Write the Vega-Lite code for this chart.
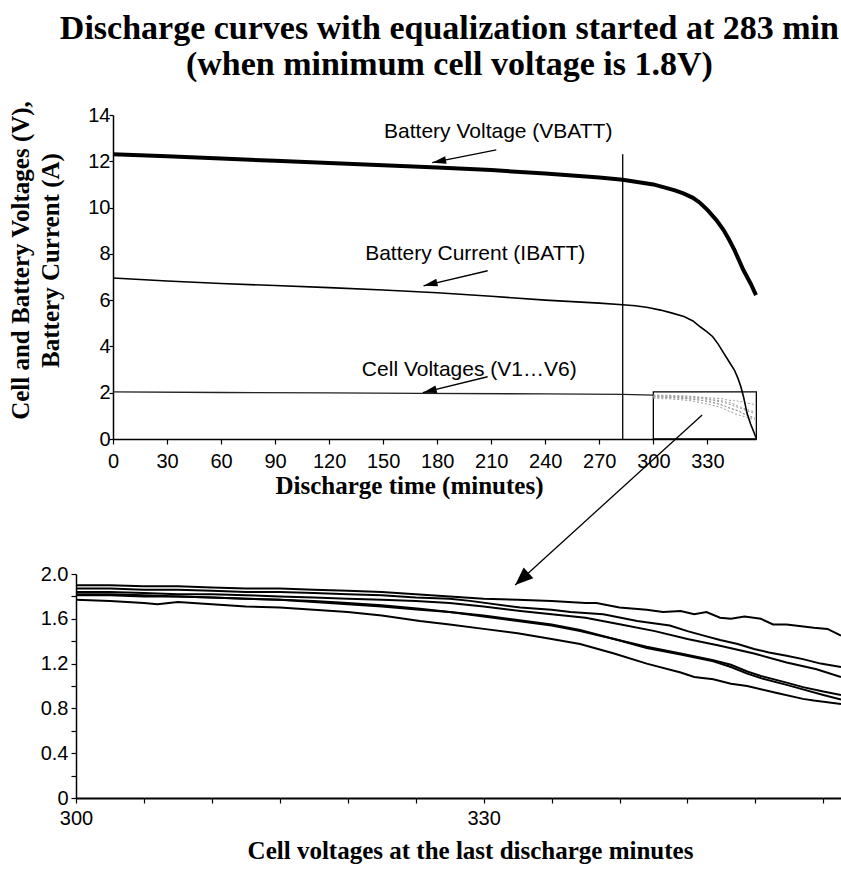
{
  "$schema": "https://vega.github.io/schema/vega-lite/v6.json",
  "background": "white",
  "padding": {"left": 8, "top": 12, "right": 0, "bottom": 5},
  "bounds": "flush",
  "spacing": 135,
  "title": {
    "text": ["Discharge curves with equalization started at 283 min", "(when minimum cell voltage is 1.8V)"],
    "font": "Liberation Serif", "fontSize": 34, "fontWeight": "bold", "lineHeight": 36,
    "anchor": "middle", "offset": 18, "dx": 6, "color": "black"
  },
  "config": {
    "view": {"stroke": null},
    "axis": {
      "domainColor": "black", "tickColor": "black", "labelColor": "black", "titleColor": "black",
      "grid": false, "labelFont": "Liberation Sans", "labelFontSize": 20,
      "titleFont": "Liberation Serif", "titleFontWeight": "bold", "titleFontSize": 25,
      "domainWidth": 1.5, "tickWidth": 1.2, "labelOverlap": false, "labelFlush": false
    }
  },
  "datasets": {
    "box": [{"t": 300, "t2": 357.2, "v": 0, "v2": 2.04}],
    "marker": [{"t": 283, "v": 0, "v2": 12.3}],
    "early": [
      {"t": 0, "v": 2.04}, {"t": 60, "v": 2.01}, {"t": 120, "v": 1.99}, {"t": 170, "v": 1.97},
      {"t": 240, "v": 1.95}, {"t": 283, "v": 1.93}, {"t": 300, "v": 1.9}
    ],
    "battery": [
      {"s": "VBATT", "t": 0, "v": 12.3}, {"s": "VBATT", "t": 30, "v": 12.22}, {"s": "VBATT", "t": 60, "v": 12.12},
      {"s": "VBATT", "t": 90, "v": 12.02}, {"s": "VBATT", "t": 120, "v": 11.93}, {"s": "VBATT", "t": 150, "v": 11.83},
      {"s": "VBATT", "t": 180, "v": 11.73}, {"s": "VBATT", "t": 210, "v": 11.62}, {"s": "VBATT", "t": 240, "v": 11.47},
      {"s": "VBATT", "t": 270, "v": 11.3}, {"s": "VBATT", "t": 283, "v": 11.2}, {"s": "VBATT", "t": 300, "v": 11.0},
      {"s": "VBATT", "t": 307, "v": 10.85}, {"s": "VBATT", "t": 312, "v": 10.74}, {"s": "VBATT", "t": 317, "v": 10.6},
      {"s": "VBATT", "t": 322, "v": 10.42}, {"s": "VBATT", "t": 326, "v": 10.2}, {"s": "VBATT", "t": 330, "v": 9.9},
      {"s": "VBATT", "t": 335, "v": 9.46}, {"s": "VBATT", "t": 339, "v": 9.03}, {"s": "VBATT", "t": 342, "v": 8.62},
      {"s": "VBATT", "t": 345, "v": 8.17}, {"s": "VBATT", "t": 350, "v": 7.3}, {"s": "VBATT", "t": 354, "v": 6.72},
      {"s": "VBATT", "t": 357, "v": 6.22},
      {"s": "IBATT", "t": 0, "v": 6.96}, {"s": "IBATT", "t": 30, "v": 6.83}, {"s": "IBATT", "t": 60, "v": 6.72},
      {"s": "IBATT", "t": 90, "v": 6.63}, {"s": "IBATT", "t": 120, "v": 6.54}, {"s": "IBATT", "t": 150, "v": 6.44},
      {"s": "IBATT", "t": 180, "v": 6.32}, {"s": "IBATT", "t": 210, "v": 6.17}, {"s": "IBATT", "t": 240, "v": 6.0},
      {"s": "IBATT", "t": 270, "v": 5.87}, {"s": "IBATT", "t": 283, "v": 5.8}, {"s": "IBATT", "t": 290, "v": 5.76},
      {"s": "IBATT", "t": 297, "v": 5.68}, {"s": "IBATT", "t": 304, "v": 5.57}, {"s": "IBATT", "t": 310, "v": 5.45},
      {"s": "IBATT", "t": 317, "v": 5.29}, {"s": "IBATT", "t": 322, "v": 5.1}, {"s": "IBATT", "t": 326, "v": 4.85},
      {"s": "IBATT", "t": 330, "v": 4.62}, {"s": "IBATT", "t": 333, "v": 4.42}, {"s": "IBATT", "t": 336, "v": 4.1},
      {"s": "IBATT", "t": 339, "v": 3.72}, {"s": "IBATT", "t": 342, "v": 3.35}, {"s": "IBATT", "t": 345, "v": 2.98},
      {"s": "IBATT", "t": 347, "v": 2.62}, {"s": "IBATT", "t": 348.6, "v": 2.26}, {"s": "IBATT", "t": 350, "v": 1.85},
      {"s": "IBATT", "t": 352, "v": 1.12}, {"s": "IBATT", "t": 354, "v": 0.65}, {"s": "IBATT", "t": 356, "v": 0.26},
      {"s": "IBATT", "t": 357, "v": 0.05}
    ],
    "labels": [
      {"t": 213.9, "v": 13.25, "text": "Battery Voltage (VBATT)"},
      {"t": 201.1, "v": 7.99, "text": "Battery Current (IBATT)"},
      {"t": 197.8, "v": 2.96, "text": "Cell Voltages (V1…V6)"}
    ],
    "arrows": [
      {"id": "vbatt", "t": 212.8, "v": 12.49, "t2": 177.2, "v2": 11.94},
      {"id": "ibatt", "t": 208, "v": 7.27, "t2": 172.4, "v2": 6.62},
      {"id": "cell", "t": 208, "v": 2.69, "t2": 172, "v2": 2.0},
      {"id": "zoom", "t": 327.1, "v": 1.04, "t2": 223.3, "v2": -6.31}
    ],
    "cells": [
      {"cell": "L1", "t": 300, "v": 1.90}, {"cell": "L1", "t": 302.5, "v": 1.90}, {"cell": "L1", "t": 305, "v": 1.89},
      {"cell": "L1", "t": 307.5, "v": 1.89}, {"cell": "L1", "t": 310, "v": 1.88}, {"cell": "L1", "t": 312.5, "v": 1.87},
      {"cell": "L1", "t": 315, "v": 1.87}, {"cell": "L1", "t": 317.5, "v": 1.86}, {"cell": "L1", "t": 320, "v": 1.85},
      {"cell": "L1", "t": 322.5, "v": 1.84}, {"cell": "L1", "t": 325, "v": 1.82}, {"cell": "L1", "t": 327.5, "v": 1.80},
      {"cell": "L1", "t": 330, "v": 1.78}, {"cell": "L1", "t": 332.5, "v": 1.77}, {"cell": "L1", "t": 335, "v": 1.76},
      {"cell": "L1", "t": 337.5, "v": 1.74}, {"cell": "L1", "t": 338.3, "v": 1.74}, {"cell": "L1", "t": 340, "v": 1.70},
      {"cell": "L1", "t": 342, "v": 1.68}, {"cell": "L1", "t": 343.2, "v": 1.66}, {"cell": "L1", "t": 344.5, "v": 1.67},
      {"cell": "L1", "t": 345.5, "v": 1.64}, {"cell": "L1", "t": 346.4, "v": 1.66}, {"cell": "L1", "t": 347.4, "v": 1.61},
      {"cell": "L1", "t": 348.2, "v": 1.60}, {"cell": "L1", "t": 349.2, "v": 1.62}, {"cell": "L1", "t": 350.4, "v": 1.60},
      {"cell": "L1", "t": 351.3, "v": 1.55}, {"cell": "L1", "t": 352.3, "v": 1.55}, {"cell": "L1", "t": 354.3, "v": 1.52},
      {"cell": "L1", "t": 355.3, "v": 1.51}, {"cell": "L1", "t": 356.3, "v": 1.45},
      {"cell": "L2", "t": 300, "v": 1.87}, {"cell": "L2", "t": 302.5, "v": 1.87}, {"cell": "L2", "t": 305, "v": 1.86},
      {"cell": "L2", "t": 307.5, "v": 1.86}, {"cell": "L2", "t": 310, "v": 1.85}, {"cell": "L2", "t": 312.5, "v": 1.84},
      {"cell": "L2", "t": 315, "v": 1.84}, {"cell": "L2", "t": 317.5, "v": 1.83}, {"cell": "L2", "t": 320, "v": 1.82},
      {"cell": "L2", "t": 322.5, "v": 1.81}, {"cell": "L2", "t": 325, "v": 1.79}, {"cell": "L2", "t": 327.5, "v": 1.78},
      {"cell": "L2", "t": 329, "v": 1.76}, {"cell": "L2", "t": 332.7, "v": 1.70}, {"cell": "L2", "t": 335, "v": 1.68},
      {"cell": "L2", "t": 336.4, "v": 1.66}, {"cell": "L2", "t": 338.8, "v": 1.64}, {"cell": "L2", "t": 341.3, "v": 1.58},
      {"cell": "L2", "t": 343.7, "v": 1.54}, {"cell": "L2", "t": 345, "v": 1.49}, {"cell": "L2", "t": 346.2, "v": 1.45},
      {"cell": "L2", "t": 347.4, "v": 1.41}, {"cell": "L2", "t": 348.7, "v": 1.375}, {"cell": "L2", "t": 349.9, "v": 1.33},
      {"cell": "L2", "t": 351, "v": 1.30}, {"cell": "L2", "t": 352.3, "v": 1.27}, {"cell": "L2", "t": 353.5, "v": 1.24},
      {"cell": "L2", "t": 354.8, "v": 1.20}, {"cell": "L2", "t": 356.3, "v": 1.17},
      {"cell": "L3", "t": 300, "v": 1.84}, {"cell": "L3", "t": 302.5, "v": 1.84}, {"cell": "L3", "t": 305, "v": 1.83},
      {"cell": "L3", "t": 307.5, "v": 1.82}, {"cell": "L3", "t": 310, "v": 1.82}, {"cell": "L3", "t": 312.5, "v": 1.81},
      {"cell": "L3", "t": 315, "v": 1.80}, {"cell": "L3", "t": 317.5, "v": 1.79}, {"cell": "L3", "t": 320, "v": 1.78},
      {"cell": "L3", "t": 322.5, "v": 1.77}, {"cell": "L3", "t": 325, "v": 1.76}, {"cell": "L3", "t": 327.5, "v": 1.74},
      {"cell": "L3", "t": 330, "v": 1.71}, {"cell": "L3", "t": 332.7, "v": 1.67}, {"cell": "L3", "t": 335, "v": 1.64},
      {"cell": "L3", "t": 337.5, "v": 1.61}, {"cell": "L3", "t": 340.1, "v": 1.55}, {"cell": "L3", "t": 342.6, "v": 1.49},
      {"cell": "L3", "t": 345, "v": 1.42}, {"cell": "L3", "t": 347.4, "v": 1.36}, {"cell": "L3", "t": 349.9, "v": 1.29},
      {"cell": "L3", "t": 352.3, "v": 1.21}, {"cell": "L3", "t": 354.5, "v": 1.15}, {"cell": "L3", "t": 356.3, "v": 1.08},
      {"cell": "L4", "t": 300, "v": 1.82}, {"cell": "L4", "t": 302.5, "v": 1.82}, {"cell": "L4", "t": 305, "v": 1.81},
      {"cell": "L4", "t": 307.5, "v": 1.80}, {"cell": "L4", "t": 310, "v": 1.79}, {"cell": "L4", "t": 312.5, "v": 1.78},
      {"cell": "L4", "t": 315, "v": 1.77}, {"cell": "L4", "t": 317.5, "v": 1.76}, {"cell": "L4", "t": 320, "v": 1.74},
      {"cell": "L4", "t": 322.5, "v": 1.72}, {"cell": "L4", "t": 325.3, "v": 1.69}, {"cell": "L4", "t": 327.5, "v": 1.66},
      {"cell": "L4", "t": 330, "v": 1.63}, {"cell": "L4", "t": 332.5, "v": 1.59}, {"cell": "L4", "t": 335, "v": 1.55},
      {"cell": "L4", "t": 337.1, "v": 1.50}, {"cell": "L4", "t": 339.6, "v": 1.42}, {"cell": "L4", "t": 342, "v": 1.35},
      {"cell": "L4", "t": 344.5, "v": 1.29}, {"cell": "L4", "t": 346.9, "v": 1.23}, {"cell": "L4", "t": 348.2, "v": 1.19},
      {"cell": "L4", "t": 349.4, "v": 1.13}, {"cell": "L4", "t": 350.4, "v": 1.09}, {"cell": "L4", "t": 352.3, "v": 1.03},
      {"cell": "L4", "t": 353.5, "v": 0.99}, {"cell": "L4", "t": 355, "v": 0.95}, {"cell": "L4", "t": 356.3, "v": 0.92},
      {"cell": "L5", "t": 300, "v": 1.81}, {"cell": "L5", "t": 302.5, "v": 1.81}, {"cell": "L5", "t": 305, "v": 1.80},
      {"cell": "L5", "t": 307.5, "v": 1.80}, {"cell": "L5", "t": 310, "v": 1.79}, {"cell": "L5", "t": 312.5, "v": 1.78},
      {"cell": "L5", "t": 315, "v": 1.77}, {"cell": "L5", "t": 317.5, "v": 1.75}, {"cell": "L5", "t": 320, "v": 1.73},
      {"cell": "L5", "t": 322.5, "v": 1.71}, {"cell": "L5", "t": 325.3, "v": 1.68}, {"cell": "L5", "t": 327.5, "v": 1.66},
      {"cell": "L5", "t": 330, "v": 1.62}, {"cell": "L5", "t": 332.5, "v": 1.58}, {"cell": "L5", "t": 335, "v": 1.54},
      {"cell": "L5", "t": 337.1, "v": 1.49}, {"cell": "L5", "t": 339.6, "v": 1.42}, {"cell": "L5", "t": 342, "v": 1.34},
      {"cell": "L5", "t": 344.5, "v": 1.28}, {"cell": "L5", "t": 346.9, "v": 1.22}, {"cell": "L5", "t": 348.2, "v": 1.17},
      {"cell": "L5", "t": 349.4, "v": 1.11}, {"cell": "L5", "t": 350.4, "v": 1.07}, {"cell": "L5", "t": 352.3, "v": 1.01},
      {"cell": "L5", "t": 353.5, "v": 0.97}, {"cell": "L5", "t": 355, "v": 0.92}, {"cell": "L5", "t": 356.3, "v": 0.88},
      {"cell": "L6", "t": 300, "v": 1.77}, {"cell": "L6", "t": 302.5, "v": 1.76}, {"cell": "L6", "t": 305, "v": 1.74},
      {"cell": "L6", "t": 306, "v": 1.73}, {"cell": "L6", "t": 307.5, "v": 1.75}, {"cell": "L6", "t": 310, "v": 1.73},
      {"cell": "L6", "t": 312.5, "v": 1.71}, {"cell": "L6", "t": 315, "v": 1.70}, {"cell": "L6", "t": 317.5, "v": 1.68},
      {"cell": "L6", "t": 320, "v": 1.66}, {"cell": "L6", "t": 322.5, "v": 1.63}, {"cell": "L6", "t": 325.3, "v": 1.58},
      {"cell": "L6", "t": 327.5, "v": 1.55}, {"cell": "L6", "t": 330, "v": 1.51}, {"cell": "L6", "t": 332.5, "v": 1.47},
      {"cell": "L6", "t": 335, "v": 1.42}, {"cell": "L6", "t": 337.1, "v": 1.375}, {"cell": "L6", "t": 339.6, "v": 1.29},
      {"cell": "L6", "t": 342, "v": 1.20}, {"cell": "L6", "t": 344.5, "v": 1.12}, {"cell": "L6", "t": 345.5, "v": 1.08},
      {"cell": "L6", "t": 346.9, "v": 1.06}, {"cell": "L6", "t": 348.2, "v": 1.02}, {"cell": "L6", "t": 349.4, "v": 1.00},
      {"cell": "L6", "t": 351.5, "v": 0.94}, {"cell": "L6", "t": 353.5, "v": 0.885}, {"cell": "L6", "t": 354.3, "v": 0.87},
      {"cell": "L6", "t": 356.3, "v": 0.84}
    ]
  },
  "vconcat": [
    {
      "width": 643,
      "height": 324,
      "layer": [
        {
          "data": {"name": "box"},
          "mark": {"type": "rect", "fill": null, "fillOpacity": 0, "stroke": "black", "strokeWidth": 1.3},
          "encoding": {
            "x": {
              "field": "t", "type": "quantitative",
              "scale": {"domain": [0, 357], "nice": false, "zero": false},
              "axis": {
                "title": "Discharge time (minutes)",
                "values": [0,3.75,7.5,11.25,15,18.75,22.5,26.25,30,33.75,37.5,41.25,45,48.75,52.5,56.25,60,63.75,67.5,71.25,75,78.75,82.5,86.25,90,93.75,97.5,101.25,105,108.75,112.5,116.25,120,123.75,127.5,131.25,135,138.75,142.5,146.25,150,153.75,157.5,161.25,165,168.75,172.5,176.25,180,183.75,187.5,191.25,195,198.75,202.5,206.25,210,213.75,217.5,221.25,225,228.75,232.5,236.25,240,243.75,247.5,251.25,255,258.75,262.5,266.25,270,273.75,277.5,281.25,285,288.75,292.5,296.25,300,303.75,307.5,311.25,315,318.75,322.5,326.25,330,333.75,337.5,341.25,345,348.75,352.5,356.25],
                "labelExpr": "datum.value % 30 === 0 ? datum.label : ''",
                "tickSize": 5, "labelPadding": 7, "titleX": 296, "titlePadding": 2
              }
            },
            "x2": {"field": "t2"},
            "y": {
              "field": "v", "type": "quantitative",
              "scale": {"domain": [0, 14], "nice": false},
              "axis": {
                "title": ["Cell and Battery Voltages (V),", "Battery Current (A)"],
                "values": [0, 2, 4, 6, 8, 10, 12, 14],
                "tickSize": 4, "labelPadding": -1, "titlePadding": 24, "titleY": 145, "titleLineHeight": 30
              }
            },
            "y2": {"field": "v2"}
          }
        },
        {
          "data": {"name": "marker"},
          "mark": {"type": "rule", "color": "black", "strokeWidth": 1.3},
          "encoding": {
            "x": {"field": "t", "type": "quantitative"},
            "y": {"field": "v", "type": "quantitative"},
            "y2": {"field": "v2"}
          }
        },
        {
          "data": {"name": "early"},
          "mark": {"type": "line", "color": "#222222", "strokeWidth": 1.3},
          "encoding": {
            "x": {"field": "t", "type": "quantitative"},
            "y": {"field": "v", "type": "quantitative"}
          }
        },
        {
          "data": {"name": "cells"},
          "mark": {"type": "line", "color": "#999999", "strokeWidth": 1, "strokeDash": [2, 2]},
          "encoding": {
            "x": {"field": "t", "type": "quantitative"},
            "y": {"field": "v", "type": "quantitative"},
            "detail": {"field": "cell"}
          }
        },
        {
          "data": {"name": "battery"},
          "transform": [{"filter": "datum.s === 'VBATT'"}],
          "mark": {"type": "line", "color": "black", "strokeWidth": 4},
          "encoding": {
            "x": {"field": "t", "type": "quantitative"},
            "y": {"field": "v", "type": "quantitative"}
          }
        },
        {
          "data": {"name": "battery"},
          "transform": [{"filter": "datum.s === 'IBATT'"}],
          "mark": {"type": "line", "color": "black", "strokeWidth": 1.6},
          "encoding": {
            "x": {"field": "t", "type": "quantitative"},
            "y": {"field": "v", "type": "quantitative"}
          }
        },
        {
          "data": {"name": "labels"},
          "mark": {"type": "text", "font": "Liberation Sans", "fontSize": 21, "color": "black", "align": "center", "baseline": "middle"},
          "encoding": {
            "x": {"field": "t", "type": "quantitative"},
            "y": {"field": "v", "type": "quantitative"},
            "text": {"field": "text"}
          }
        },
        {
          "data": {"name": "arrows"},
          "mark": {"type": "rule", "color": "black", "strokeWidth": 1.3},
          "encoding": {
            "x": {"field": "t", "type": "quantitative"},
            "y": {"field": "v", "type": "quantitative"},
            "x2": {"field": "t2"},
            "y2": {"field": "v2"}
          }
        },
        {
          "data": {"name": "arrows"},
          "transform": [{"filter": "datum.id === 'vbatt'"}],
          "mark": {"type": "point", "shape": "M0,0L-2,-0.55L-2,0.55Z", "filled": true, "color": "black", "opacity": 1, "size": 196, "angle": 168.8},
          "encoding": {"x": {"field": "t2", "type": "quantitative"}, "y": {"field": "v2", "type": "quantitative"}}
        },
        {
          "data": {"name": "arrows"},
          "transform": [{"filter": "datum.id === 'ibatt'"}],
          "mark": {"type": "point", "shape": "M0,0L-2,-0.55L-2,0.55Z", "filled": true, "color": "black", "opacity": 1, "size": 196, "angle": 166.8},
          "encoding": {"x": {"field": "t2", "type": "quantitative"}, "y": {"field": "v2", "type": "quantitative"}}
        },
        {
          "data": {"name": "arrows"},
          "transform": [{"filter": "datum.id === 'cell'"}],
          "mark": {"type": "point", "shape": "M0,0L-2,-0.55L-2,0.55Z", "filled": true, "color": "black", "opacity": 1, "size": 196, "angle": 166.1},
          "encoding": {"x": {"field": "t2", "type": "quantitative"}, "y": {"field": "v2", "type": "quantitative"}}
        },
        {
          "data": {"name": "arrows"},
          "transform": [{"filter": "datum.id === 'zoom'"}],
          "mark": {"type": "point", "shape": "M0,0L-2,-0.8L-2,0.8Z", "filled": true, "color": "black", "opacity": 1, "size": 324, "angle": 137.7},
          "encoding": {"x": {"field": "t2", "type": "quantitative"}, "y": {"field": "v2", "type": "quantitative"}}
        }
      ]
    },
    {
      "width": 728,
      "height": 224,
      "data": {"name": "cells"},
      "mark": {"type": "line", "color": "black", "strokeWidth": 2},
      "encoding": {
        "x": {
          "field": "t", "type": "quantitative",
          "scale": {"domain": [300, 356.3], "range": [-37, 728], "nice": false, "zero": false},
          "axis": {
            "title": "Cell voltages at the last discharge minutes",
            "values": [300, 305, 310, 315, 320, 325, 330, 335, 340, 345, 350, 355],
            "labelExpr": "datum.value === 300 || datum.value === 330 ? datum.label : ''",
            "tickSize": 5, "labelPadding": 5, "titleX": 357, "titlePadding": 10, "domainWidth": 2, "titleFontSize": 25
          }
        },
        "y": {
          "field": "v", "type": "quantitative",
          "scale": {"domain": [0, 2], "nice": false},
          "axis": {
            "title": null,
            "values": [0, 0.2, 0.4, 0.6, 0.8, 1, 1.2, 1.4, 1.6, 1.8, 2],
            "labelExpr": "datum.value === 0 ? '0' : (round(datum.value * 10) % 4 === 0 ? format(datum.value, '.1f') : '')",
            "tickSize": 5, "labelPadding": 3, "offset": 37
          }
        },
        "detail": {"field": "cell"}
      }
    }
  ]
}
